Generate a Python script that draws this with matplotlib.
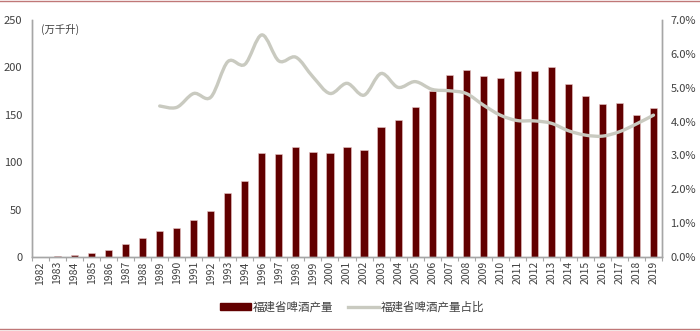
import matplotlib.pyplot as plt
from matplotlib.path import Path
from matplotlib.patches import PathPatch
from matplotlib.lines import Line2D
from matplotlib.ticker import PercentFormatter
import numpy as np

plt.rcParams['font.family'] = ['Noto Sans CJK SC', 'DejaVu Sans']

years = ['1982', '1983', '1984', '1985', '1986', '1987', '1988', '1989', '1990',
         '1991', '1992', '1993', '1994', '1996', '1997', '1998', '1999', '2000',
         '2001', '2002', '2003', '2004', '2005', '2006', '2007', '2008', '2009',
         '2010', '2011', '2012', '2013', '2014', '2015', '2016', '2017', '2018', '2019']
output = [0.5, 1, 2, 4, 7, 14, 20, 27, 31, 39, 48, 68, 80, 110, 109, 116, 111, 110,
          116, 113, 137, 145, 158, 175, 192, 197, 191, 189, 196, 196, 200, 183, 170,
          161, 162, 150, 157]
# share starts in 1989
share_years = years[7:]
share = [4.46, 4.42, 4.83, 4.72, 5.77, 5.69, 6.56, 5.79, 5.90, 5.32, 4.83, 5.13,
         4.78, 5.42, 5.01, 5.18, 4.95, 4.91, 4.83, 4.49, 4.19, 4.03, 4.02, 3.95,
         3.73, 3.60, 3.57, 3.70, 3.93, 4.19]

bar_color = '#620000'
line_color = '#c9cac0'
grey = '#a6a6a6'
txt = '#404040'


def smooth_path(xs, ys):
    # catmull-rom through the points, drawn as cubic bezier segments
    pts = np.column_stack([xs, ys]).astype(float)
    verts = [pts[0]]
    codes = [Path.MOVETO]
    n = len(pts)
    for i in range(n - 1):
        p0 = pts[i - 1] if i > 0 else pts[i]
        p1 = pts[i]
        p2 = pts[i + 1]
        p3 = pts[i + 2] if i + 2 < n else pts[i + 1]
        c1 = p1 + (p2 - p0) / 6.0
        c2 = p2 - (p3 - p1) / 6.0
        verts += [c1, c2, p2]
        codes += [Path.CURVE4] * 3
    return Path(verts, codes)


fig = plt.figure(figsize=(7, 3.31), dpi=100)
ax1 = fig.add_axes([32 / 700, 74 / 331, 630 / 700, 237 / 331])
x = np.arange(len(years))
ax1.bar(x, output, width=0.42, color=bar_color, edgecolor='#e8c8c8', linewidth=0.4, zorder=2)
ax1.set_xlim(-0.5, len(years) - 0.5)
ax1.set_ylim(0, 250)
ax1.set_yticks([0, 50, 100, 150, 200, 250])
ax1.set_xticks(x)
ax1.set_xticklabels(years, rotation=90, fontsize=7.5, color=txt)
ax1.set_xticks(np.arange(-0.5, len(years), 1), minor=True)
ax1.tick_params(axis='x', which='major', length=0, pad=3)
ax1.tick_params(axis='x', which='minor', length=3, color=grey, width=0.8)
ax1.tick_params(axis='y', length=0, labelsize=8, colors=txt, pad=7)

ax2 = ax1.twinx()
ax2.set_ylim(0, 0.07)
ax2.set_yticks(np.arange(0, 0.071, 0.01))
ax2.yaxis.set_major_formatter(PercentFormatter(1.0, decimals=1))
ax2.tick_params(axis='y', length=0, labelsize=8, colors=txt, pad=6)
sx = x[7:]
sy = np.array(share) / 100
ax2.add_patch(PathPatch(smooth_path(sx, sy), facecolor='none', edgecolor=line_color,
                        linewidth=2.4, capstyle='round', zorder=3))

for a in (ax1, ax2):
    a.spines['top'].set_visible(False)
    for s in ('left', 'right', 'bottom'):
        a.spines[s].set_color(grey)
        a.spines[s].set_linewidth(1)

ax1.text(0.015, 0.985, '(万千升)', transform=ax1.transAxes, fontsize=7.5,
         color=txt, va='top', ha='left')

handles = [
    plt.Rectangle((0, 0), 1, 1, color=bar_color),
    Line2D([0], [0], color=line_color, linewidth=2.4),
]
fig.legend(handles, ['福建省啤酒产量', '福建省啤酒产量占比'], loc='center',
           bbox_to_anchor=(0.503, 0.072), ncol=2, frameon=False, fontsize=8.3,
           handlelength=2.7, handleheight=0.5, columnspacing=1.2, handletextpad=0.2,
           labelcolor=txt)

fig.add_artist(Line2D([0, 1], [0.996, 0.996], color='#c07878', linewidth=1,
                      transform=fig.transFigure))
fig.add_artist(Line2D([0, 1], [0.006, 0.006], color='#c07878', linewidth=1,
                      transform=fig.transFigure))

fig.savefig('out.png', dpi=100)
